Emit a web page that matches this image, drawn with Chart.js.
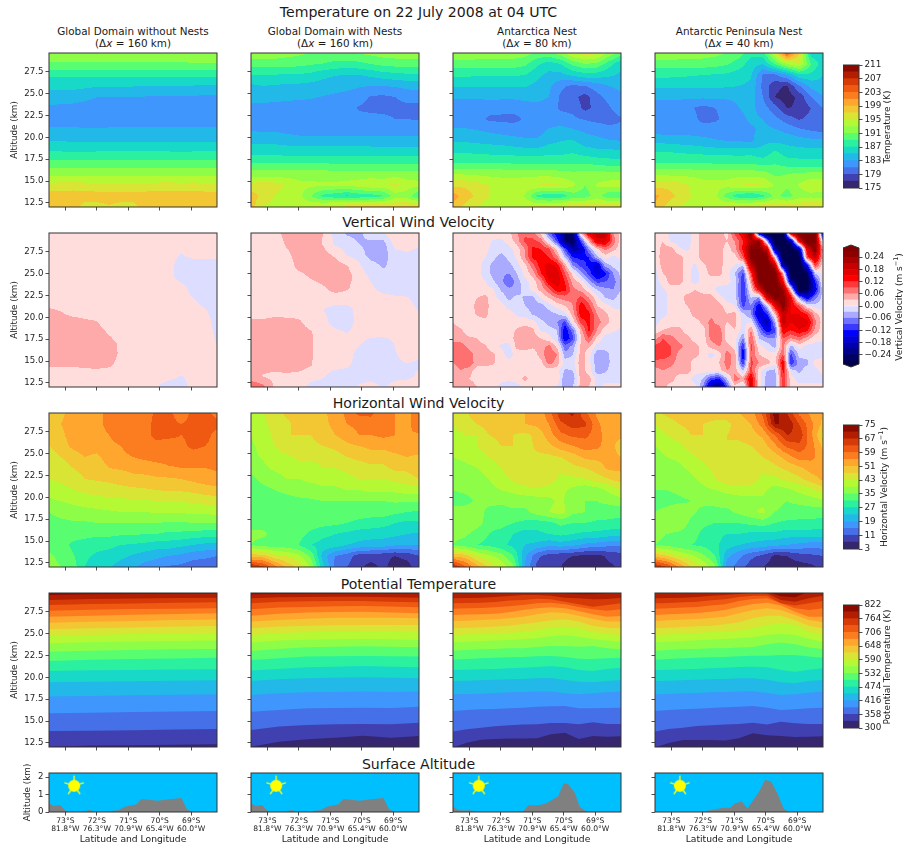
<!DOCTYPE html>
<html>
<head>
<meta charset="utf-8">
<title>Temperature on 22 July 2008 at 04 UTC</title>
<script src="https://cdn.jsdelivr.net/npm/chart.js@4"></script>
<style>
html, body { margin: 0; padding: 0; background: #fff; }
body { position: relative; width: 903px; height: 846px; overflow: hidden; font-family: "DejaVu Sans", sans-serif; color: #1a1a1a; }
canvas { position: absolute; }
.head { position: absolute; left: 0; width: 837px; text-align: center; font-size: 14.1px; line-height: 16px; white-space: nowrap; }
.ptitle { position: absolute; text-align: center; font-size: 10.4px; line-height: 12px; white-space: nowrap; }
.cbtitle { position: absolute; font-size: 9px; line-height: 11px; white-space: nowrap; transform: translate(-50%, -50%) rotate(-90deg); color: #222; }
sup { font-size: 6.5px; line-height: 0; }
</style>
</head>
<body>
<script>
// grid positions of the contour fields
const fieldLats = [-73.52,-73.14,-72.76,-72.38,-72.0,-71.61,-71.23,-70.85,-70.47,-70.09,-69.71,-69.32,-68.94,-68.56,-68.18];
const fieldAlts = [29.64,28.38,27.13,25.87,24.61,23.36,22.10,20.84,19.58,18.33,17.07,15.81,14.56,13.30,12.04];
const fineLats = [-73.52,-73.27,-73.01,-72.76,-72.5,-72.25,-71.99,-71.74,-71.49,-71.23,-70.98,-70.72,-70.47,-70.21,-69.96,-69.71,-69.45,-69.2,-68.94,-68.69,-68.43,-68.18];
const fineAlts = [29.64,28.71,27.79,26.86,25.94,25.01,24.08,23.16,22.23,21.31,20.38,19.45,18.53,17.6,16.68,15.75,14.82,13.9,12.97,12.04];

const latTicks = [-73,-72,-71,-70,-69];
const latLabels = ['73°S','72°S','71°S','70°S','69°S'];
const lonLabels = ['81.8°W','76.3°W','70.9°W','65.4°W','60.0°W'];
const altTicks = [12.5,15,17.5,20,22.5,25,27.5];
const surfaceTicks = [0,1,2];

const panelTitles = ['Global Domain without Nests','Global Domain with Nests','Antarctica Nest','Antarctic Peninsula Nest'];
const panelRes = ['160','160','80','40'];

// temperature (K)
const tempLevels = [175,177,179,181,183,185,187,189,191,193,195,197,199,201,203,205,207,209,211];
const tempTicks = [175,179,183,187,191,195,199,203,207,211];
const tempGlobal = [
[192.5,192.5,192.5,192.5,192.5,192.5,192.5,192.5,192.5,192.5,192.5,192.5,192.5,192.5,192.5],
[190.7,190.7,190.7,190.7,190.7,190.7,190.7,190.7,190.7,190.7,190.7,190.7,190.8,190.8,190.8],
[187.4,187.4,187.4,187.4,187.4,187.4,187.4,187.4,187.4,187.4,187.4,187.4,187.4,187.4,187.4],
[185.6,185.6,185.6,185.4,185.2,185.1,185.1,185.1,185,185,185,185,184.9,184.8,184.8],
[184,183.9,183.9,183.6,183,183,183,183,182.9,182.8,182.8,182.8,182.8,182.6,182.6],
[182.7,182.5,182.4,182,182,182,182,182,182,182,182,181.9,182,182,182],
[182,182,182,182,182,182,182,182,182,182,182,182,182,182,182],
[183.4,183.4,183.4,183.2,183.2,183.3,183.4,183.4,183.4,183.4,183.4,183.3,183.4,183.3,183.4],
[185,185,184.8,184.9,184.9,184.9,184.9,184.9,184.9,184.9,184.9,184.8,184.9,184.9,184.9],
[187.1,187.1,187,187,187.1,187.1,187.1,187.1,187.1,187.1,187.1,187,187.1,187.1,187.1],
[189.8,189.8,189.6,189.8,189.8,189.8,189.8,189.8,189.8,189.8,189.8,189.6,189.8,189.8,189.8],
[192.5,192.5,192.4,192.5,192.5,192.5,192.5,192.5,192.5,192.5,192.5,192.4,192.5,192.5,192.5],
[195.5,195.8,196,195.7,195.5,195.5,195.5,195.5,195.5,195.7,195.8,195.6,195.8,195.5,195.5],
[198,198,198,198,198,198,198,198,198,198,198,198,198,198,198],
[198,198,198,196.2,196.2,196.8,196.2,196.2,198,198,198,198,198,198,198]];
const tempNests = [
[192.4,192.4,192.2,191.8,191.4,191,190.8,190.6,190.8,191.2,191.6,192,192.2,192.4,192.4],
[189.9,189.9,189.9,189.8,189.6,189.2,188.9,188.4,188.2,188.4,189,189.6,189.8,189.9,189.9],
[186.9,186.9,186.9,186.8,186.8,186.4,185.6,185.1,185,185,185.4,186,186.4,186.6,186.6],
[184.6,185,184.8,184.6,184.5,184.3,184,183.8,183.6,183.2,183,183,183.2,183.6,183.8],
[183.5,183.6,183.5,183.4,183.3,183.2,182.9,182.6,182.3,181.8,180.8,180.6,181,181.6,181.8],
[182.5,182.5,182.4,182.3,182.2,182.1,182,181.9,181.7,180.8,180.5,180.5,180.5,180.5,180.4],
[182.2,182.2,182,181.8,181.8,181.8,181.8,181.8,181.8,181.6,181.6,181.4,181,181,180.8],
[182.8,182.7,182.7,182.3,182,182,182,182,182,182,182,182,181.9,182.2,182.2],
[184.6,184.6,184.5,184.3,184,184,184,184,184,184,184,183.8,183.8,183.6,183.6],
[186.2,186.2,186.2,186,186,186,186,186,186,186,186,185.9,186,186,186],
[189,189,189,188.9,188.9,188.9,188.9,188.8,188.8,188.8,188.8,188.8,188.8,188.8,188.8],
[192,192,192,192,192,192,192,192,192,192,192,191.8,192,192,192],
[195.6,196.3,195.8,194.8,193.7,193.5,193.4,193.4,193.6,194,194.6,194.4,195.6,194,193.6],
[198,196.4,195,194.2,193.6,191,188.4,187.6,186.6,187.6,188,188.8,192,192,189],
[198,195,194,193.5,194,195,196,197,197.5,197.5,197.5,197.5,197.5,197.5,197.5]];
const tempAntarctica = [
[192.6,192.6,192.4,192.4,192.4,192.2,192,190.5,190.5,192,195,196,195.5,192.5,190],
[190,190,190,190,190,190,189.4,187.4,186,187,189.5,191,190.4,187.8,185.5],
[187.4,187.4,187.2,187.2,187.2,187.2,187,185.6,184.4,184.4,185.4,186.2,186,185.4,184.6],
[185.2,185.2,185.2,185.2,185.2,185.2,185.2,184.4,183.4,181.4,180.6,181,182,183,183.6],
[183.2,183.2,183.2,183.4,183.4,183.4,183.6,183.6,183,180.6,179.6,178.2,180.4,181.6,182.4],
[182,182,182,181.9,181.6,181.6,182,182.4,182,180.6,180.4,178.4,179.6,180.8,182],
[182,182,182,180.6,180.6,180.4,181.2,182,182,182,181.4,180.8,180.4,180.2,180.8],
[183.3,183.2,183,182.6,182.2,182,182,182,183.2,183.6,183.2,182.6,182.2,181.6,181.6],
[184.8,184.8,184.6,184.4,184.2,183.8,183.4,183.3,184.4,185,185.2,184,183.6,183.2,183],
[186.8,186.8,186.6,186.4,186.4,186.2,186,186,186.4,186.4,186.8,186,185.6,185.6,185.4],
[189,189,189,189,189,188.8,188.6,188.6,188.6,188.6,188.8,188.8,188.4,188,187.8],
[193,192.8,192.6,192.4,192.4,192.4,192.4,192.4,192.4,192,191.6,191.8,192,191.8,191.6],
[196.4,196.6,196,195,194.2,194,194.4,195,195.4,195,193.6,191,193.2,193.8,194.2],
[200,198,196.6,195,194,193.8,192.8,188.5,187.4,187.6,190,190,192,189.4,189.2],
[198.5,196.5,195,194,194,194.5,195,195.5,196,196.5,197,197,197,197,197]];
const tempPeninsula = [
[192.6,192.6,192.4,192.2,192,191.6,191,190,187.6,188,195,204,197,186,185],
[190,190,190,190,190,189.8,189.2,188,186,185,189,193,195,189,185.8],
[187.5,187.5,187.4,187.2,187,186.8,186.6,186,185.2,180.8,180.6,183,186.5,186.5,185],
[185.4,185.4,185.4,185.4,185.4,185.4,185.2,185,184.6,180.4,177.6,176.8,180.8,183.6,184.4],
[183.4,183.4,183.4,183.4,183.4,183.4,183.4,183.6,184,181,177,175.8,177.6,181,183],
[182,182,181.8,181.2,180.4,181,181.6,183,183.6,182,179.8,176.9,177.4,179,181],
[182,182,182,181.8,180.4,180.6,181.8,182.4,183.4,183,181.6,180,178.8,179.6,180.4],
[182,182,182,182,182,182,182,182,182.6,183.6,183.2,182.4,181.4,180.8,180.4],
[184.5,184.4,184.2,184,183.6,183.2,183,183,182.6,184.6,184.6,184.4,184,183.6,183.4],
[187,187,186.8,186.6,186.4,186.2,186.2,186.2,186.2,185.6,187.4,186,185.8,185.8,185.8],
[189,189,189,189,189,188.8,188.8,188.6,188.8,188.2,188.8,188,187.8,187.6,187.6],
[192.6,192.5,192.4,192.4,192.2,192.2,192.2,192.2,192.2,192,190.6,191,191.4,191.6,191.6],
[196.2,196.4,195.8,194.8,193.8,193.6,193.8,195,195.4,195,192.8,191.5,193.2,194.6,194.4],
[199.6,198,196.6,195,194,193.6,190,187.6,186.8,188.4,191.6,190,192,192.4,192],
[198.5,196.5,195,194,194,194.5,195.5,196.5,197,197,197,197,197,197,197]];

// vertical velocity (m/s)
const wLevels = [-9,-0.27,-0.24,-0.21,-0.18,-0.15,-0.12,-0.09,-0.06,-0.03,0,0.03,0.06,0.09,0.12,0.15,0.18,0.21,0.24,0.27,9];
const wTicks = [-0.24,-0.18,-0.12,-0.06,0,0.06,0.12,0.18,0.24];
const wTickLabels = ['−0.24','−0.18','−0.12','−0.06','0.00','0.06','0.12','0.18','0.24'];
const wGlobal = [
[.015,.015,.015,.015,.015,.015,.015,.015,.015,.015,.015,.015,.015,.015,.015],
[.012,.012,.012,.012,.012,.012,.012,.012,.012,.012,.012,.012,.012,.012,.012],
[.012,.012,.012,.012,.012,.012,.012,.012,.012,.012,.012,-.002,.008,.01,.01],
[.01,.01,.01,.01,.01,.01,.01,.01,.01,.01,.01,-.015,-.015,-.015,-.015],
[.01,.01,.01,.01,.01,.01,.01,.01,.01,.01,.01,-.012,-.015,-.015,-.015],
[.012,.012,.012,.012,.012,.012,.012,.012,.012,.012,.012,.012,-.012,-.015,-.015],
[.012,.012,.012,.012,.012,.012,.012,.012,.012,.012,.012,.012,.002,-.012,-.015],
[.034,.028,.012,.012,.012,.012,.012,.012,.012,.012,.012,.012,.012,.002,-.012],
[.045,.045,.042,.034,.03,.012,.012,.012,.012,.012,.012,.012,.012,.01,-.01],
[.045,.045,.045,.045,.042,.026,.012,.012,.012,.012,.012,.012,.012,.012,-.006],
[.045,.045,.045,.045,.045,.04,.024,.012,.012,.012,.012,.012,.012,.012,-.001],
[.045,.045,.045,.045,.045,.045,.024,.012,.012,.012,.012,.012,.012,.012,.005],
[.034,.034,.034,.037,.04,.035,.02,.012,.012,.012,.012,.012,.012,.012,.008],
[.012,.012,.012,.012,.012,.012,.012,.012,.012,.012,.008,-.001,.008,.012,.012],
[.012,.012,.012,.012,.012,.012,.012,.012,.012,0,-.012,-.012,.01,.012,.012]];
const wNests = [
[.012,.012,.02,.04,.045,.045,.03,-.01,-.035,-.04,-.01,-.005,.03,.03,.012],
[.012,.012,.012,.035,.045,.045,.028,-.004,-.012,-.03,-.04,-.045,.012,.012,.005],
[.012,.012,.012,.022,.045,.045,.042,.025,-.002,-.012,-.045,-.045,-.012,-.004,-.012],
[.012,.012,.012,.012,.04,.045,.045,.045,.032,.005,-.015,-.035,-.015,-.015,-.015],
[.012,.012,.012,.012,.018,.034,.045,.045,.045,.012,-.004,-.015,-.015,-.015,-.015],
[.012,.012,.012,.012,.012,.012,.025,.045,.035,.01,.005,-.012,-.015,-.015,-.015],
[.012,.012,.012,.012,.012,.012,.012,.012,.012,.012,.012,.012,.006,.004,-.012],
[.012,.012,.012,.012,.012,.012,0,-.01,-.01,.01,.012,.012,.012,.012,-.002],
[.033,.034,.04,.038,.034,.012,.01,-.015,-.015,.01,.012,.012,.012,.012,.012],
[.045,.045,.045,.045,.045,.032,.012,.008,-.002,.012,.012,.012,.012,.012,.012],
[.045,.045,.045,.045,.045,.034,.012,.012,.012,.004,-.01,-.015,.002,.012,.012],
[.045,.045,.045,.045,.045,.033,.012,.012,.012,-.01,-.015,-.015,-.002,.01,.005],
[.045,.045,.045,.045,.045,.032,.012,.01,.006,-.012,-.015,-.015,-.005,-.002,-.005],
[.04,.028,.02,.025,.02,.012,.004,-.012,-.015,-.015,-.015,-.015,-.012,-.01,.006],
[.085,.07,.025,.025,.012,-.01,-.015,-.015,-.012,.004,.016,-.005,.015,.02,.02]];
const wAntarctica = [
[.012,.012,.012,.012,.012,.012,.012,.02,.06,.08,.07,.02,-.08,-.15,-.24,-.24,.03,.17,.2,.2,.06,.015],
[.012,.012,.012,.012,.012,-.002,-.005,.012,.045,.1,.1,.08,-.005,-.1,-.24,-.27,-.1,.04,.17,.17,.08,.012],
[.012,.012,.012,.012,.012,-.012,-.015,-.012,.012,.06,.13,.12,.1,.02,-.1,-.2,-.18,-.06,.02,.07,.04,.012],
[.012,.012,.012,.012,0,-.02,-.045,-.02,.005,.06,.13,.14,.12,.07,-.03,-.12,-.13,-.12,-.04,.012,-.01,.008],
[.012,.012,.012,.012,-.01,-.04,-.05,-.04,-.012,.02,.08,.14,.165,.14,.05,-.06,-.1,-.13,-.17,-.05,-.02,-.012],
[.012,.012,.012,.012,-.012,-.04,-.055,-.06,-.03,.01,.045,.12,.17,.17,.09,.02,-.05,-.1,-.17,-.13,-.06,-.02],
[.012,.012,.012,.012,.002,-.025,-.05,-.09,-.045,-.01,.012,.06,.15,.17,.12,.045,.02,-.04,-.1,-.09,-.075,-.03],
[.012,.012,.012,.012,.012,.004,-.035,-.05,-.05,-.012,.01,.04,.08,.14,.13,.07,.05,.012,-.03,-.05,-.06,-.03],
[.012,.012,.012,.03,.04,.012,-.01,-.04,-.02,-.035,-.04,.005,.03,.06,.075,.07,.1,.06,.01,-.03,-.04,-.012],
[.012,.012,.012,.04,.045,.012,.012,-.01,-.015,-.03,-.045,-.045,-.015,.012,.03,.06,.14,.1,.03,.012,-.005,-.01],
[.012,.012,.012,.035,.04,.012,.012,.012,-.005,-.01,-.035,-.05,-.045,-.03,-.01,.045,.14,.13,.06,.04,.012,.01],
[.03,.012,.012,.012,.022,.012,.012,.012,.012,.02,.012,-.02,-.045,-.06,-.1,.01,.1,.13,.07,.05,.012,.012],
[.045,.035,.012,.012,.012,.012,.012,.012,.035,.045,.035,-.005,-.012,-.03,-.15,-.07,.045,.13,.06,.012,.004,-.004],
[.045,.045,.035,.03,.012,.012,.012,.012,.045,.05,.045,.03,.012,-.02,-.15,-.1,.03,.09,.02,-.01,-.012,-.015],
[.075,.075,.05,.045,.035,.012,-.005,-.01,.04,.045,.035,.045,.07,.02,-.08,-.05,.04,.035,-.012,-.012,-.012,-.012],
[.075,.08,.075,.045,.045,.035,.012,-.015,.012,.012,.012,.045,.09,.06,-.05,-.03,.045,.012,-.05,-.05,-.012,-.015],
[.06,.075,.08,.045,.045,.035,.012,.012,.012,.012,-.002,.02,.075,.045,-.012,-.012,.05,.012,-.05,-.05,-.015,-.015],
[.045,.06,.045,.012,.012,.012,.012,.012,.012,.012,.012,.012,.012,.012,-.035,-.03,.05,.012,-.045,-.035,-.015,-.015],
[.035,.045,.03,.012,.012,.012,.012,.012,.012,.04,.012,.012,.02,.03,-.06,-.05,.045,.045,-.012,-.012,-.012,-.012],
[.035,.045,.06,.03,.012,.012,-.012,-.03,-.012,.005,.012,.012,.012,-.005,-.05,-.03,.045,.03,-.01,.012,.012,.012]];
const wPeninsula = [
[.012,.012,-.01,-.015,-.01,.012,.045,.06,.045,.02,.1,.15,.27,-.2,-.3,-.3,-.3,.2,.3,.3,.3,-.2],
[.012,.03,-.005,-.015,-.012,.012,.045,.06,.045,.03,.06,.12,.21,.25,-.05,-.3,-.3,-.2,.15,.3,.27,-.03],
[.012,.04,.045,.005,-.005,.012,.05,.06,.05,.012,.05,.13,.27,.27,.2,-.2,-.3,-.3,-.2,.15,.27,.05],
[.012,.045,.045,.045,.012,.012,.05,.055,.05,.012,.012,.09,.27,.3,.27,.03,-.3,-.3,-.3,.1,.2,.04],
[-.005,.045,.045,.045,.012,-.005,.02,.05,.045,.012,0,-.03,.2,.3,.3,.2,-.2,-.3,-.3,-.15,.1,.012],
[-.012,.03,.045,.045,.012,-.012,.012,.04,.04,.012,-.03,-.1,.1,.3,.3,.3,.05,-.3,-.3,-.27,-.03,.012],
[-.012,.01,.045,.045,.012,-.012,.012,.012,.012,.012,-.012,-.12,.05,.27,.3,.3,.15,-.2,-.3,-.3,-.12,.012],
[-.012,-.005,.012,.012,.012,.03,.012,.012,-.012,-.015,-.02,-.12,.012,.15,.3,.3,.25,.02,-.3,-.27,-.15,-.01],
[-.015,-.015,.012,.012,.045,.05,.05,.045,.012,-.012,-.012,-.12,-.03,-.06,.18,.27,.27,.15,-.05,-.15,-.07,-.015],
[-.015,-.015,.012,.012,.03,.05,.05,.05,.045,.012,0,-.1,-.06,-.15,-.03,.15,.27,.15,.1,.01,-.015,-.015],
[-.015,-.012,.012,.012,.012,.045,.05,.05,.05,.03,.04,-.02,-.06,-.18,-.12,.03,.2,.15,.15,.12,.04,.012],
[-.012,.012,.012,.012,.012,.012,.04,.07,.045,.03,.04,-.012,0,-.12,-.2,-.05,.2,.15,.17,.17,.07,.012],
[.012,.03,.04,.045,.012,.012,.012,.08,.08,.012,.03,-.015,.06,-.06,-.15,-.1,.15,.12,.15,.13,.05,.012],
[.045,.09,.07,.05,.045,.012,.012,.07,.09,.012,.012,-.06,.09,-.03,-.05,-.06,.09,.06,.08,.045,.012,.012],
[.1,.11,.09,.07,.05,.045,.012,.04,.06,.045,.012,-.12,.1,.012,-.012,-.04,.07,-.04,.012,-.012,-.012,-.012],
[.11,.11,.09,.05,.045,.045,.012,-.012,.012,.075,.045,-.15,.09,.03,.012,.012,.09,-.1,-.02,-.015,-.015,-.015],
[.08,.075,.07,.045,.045,.012,.012,.012,.03,.075,.045,-.12,.1,.06,.045,.012,.15,-.12,-.045,-.04,.012,.02],
[.045,.06,.05,.045,.045,.012,.012,.012,.012,.06,.05,-.03,.1,.012,-.03,-.04,.13,-.012,-.04,-.012,-.012,.012],
[.05,.045,.045,.012,.012,-.012,-.03,-.1,-.12,-.03,.08,.05,.16,.012,-.045,-.05,.12,.012,-.012,-.012,-.012,-.012],
[.045,.045,.012,.012,.012,.012,-.06,-.2,-.25,-.1,.02,-.03,.17,.012,-.05,-.05,.12,.012,.012,.012,.012,.012]];

// horizontal velocity (m/s)
const uLevels = [3,7,11,15,19,23,27,31,35,39,43,47,51,55,59,63,67,71,75];
const uTicks = [3,11,19,27,35,43,51,59,67,75];
const uTickLabels = ['3','11','19','27','35','43','51','59','67','75'];
const uGlobal = [
[48,50,53,53,54,56,57,57,57,60,60,57,60,60,58],
[49,51,53,54,54,56,57,57,58,60,60,59,60,60,60],
[48,50,53,54,54,55,57,57,58,60,60,59,60,60,58],
[47,49,52,53,53,54,55,57,58,58,57,58,60,59,58],
[45,47,49,51,50,53,54,55,56,57,57,57,57,57,57],
[43.5,45,47,48.5,49,51,51.5,52,52.5,53,54.5,55,55,55,55.5],
[43,44,45,47,47.5,48,49,50,50,50.5,50.5,51,52,53,54],
[40,41.5,43,44,44.5,45,45.5,46,46.5,47,47.5,47.5,48,49,49.5],
[38.5,39,40,41,41.5,42,42,42.5,42.5,43,43,43,44,44.5,45],
[35,36.5,37,37.5,38,38.5,39,39,39,39.5,39.5,39.5,40,40,40.5],
[33.5,34,34.5,34.5,35,35,35,35,35,35,34.5,34.5,35,35,35],
[33,33,33,32.5,32,32,31.5,31.5,31,31,30,30,29.5,29,29],
[33,33,30,29,28,28,27,26.5,26,25,25,24,23,22,22],
[36,33.5,31.5,27.5,26.5,25.5,24,22.5,21,20,19,18,16.5,16,15],
[37,35,33,27,25.5,23.5,21,19.5,17.5,16,14.5,14,12.5,12,12]];
const uNests = [
[41,43,45,48,48.5,49,50,53,56,60,60,56,55,54,57],
[41.5,42,45,46,49,49,50,52,55,56,57,56,55,54,57],
[39,41,44,47,47,47,49,51,53,55,55,56,55,55,54.5],
[38.5,40,43,46,47,46,47,48,50,51,52,52,53,54,54],
[38,39.5,41.5,42,44,43.5,44,45,47,48,49,49,50,51,50],
[36,38,40,41,41,42,43,43,44,45,46,46,48,48,50],
[34,36,37,39,39,40,41,41,42,43,43,43,44,45,47],
[33,34,35,36,37,37,38,38,39,39,40,40,40,41,41],
[33,33,33,33.5,34,34.5,35,35,35,35,35,35,35.5,35.5,35.5],
[33,33,33,33,33,33,33,33,33,33,33,33,32,31,30.5],
[33,33,33,33,33,33,32.5,32,31,30,29,28.5,27,26,26.5],
[36,36,33,33,32.5,30,28,27,26,25,25,24.5,24,23,22.5],
[35,33,33,32.5,31,27,25.5,25,23,22,21,21,19.5,19,19],
[49,49,44,43,40,34,21,15,13,9,9,8,7,8,11],
[68,64,57,50,46,38,24,14,11,8,5.5,8,5,5.5,9]];
const uAntarctica = [
[47,46,50,50,51,51,51,52,57,66,68,60,54,52,52],
[43,45,47,49,50,49,51,52,55,62,65,64,56,52,51],
[42,43,43,47,48,47,46,48,53,58,60,60,57,52,52],
[41,41,43,45,47,47,45,48,50,53,55,57,56,53,49],
[39,40,41,43,45,47,46,46,46,47,49,52,52,52,51],
[37,38,39,41,43,46,47,46,45,44,46,47,49,52,52],
[36,37,37,39,41,44,47,47,45,42,42,43,45,47,49],
[35,36,37,38,39,40,41,42,41,40,38,36,37,40,43],
[33,33,36,37,36,37,37,37,38,40,36,35,35,36,37],
[37,38,38,33,33,34,34,37,39,41,36,35,34,33,33],
[38,39,37,33,33,31,30,29,30,32,31,31,30,30,29],
[36,36,33,31,29,27,25,26,27,28,27,26,26,25,25],
[35,33,31,30,28,26,23,22,20,21,20,18,17,16,16],
[50,49,43,40,37,31,20,12,9,8,7,6,5.5,8,9],
[68,60,53,46,42,36,18,10,8,7,5,5,5,6,8]];
const uPeninsula = [
[46,48,49,48,49,49,49,51,53,60,73,67,58,54,51],
[43,45,47,48,47,46,46,49,51,57,71,71,63,56,50],
[41,43,45,47,47,45,47,48,49,52,59,67,66,56,46],
[39,41,42,45,46,47,47,46,47,49,54,60,62,57,50],
[37,39,40,42,44,47,47,46,45,47,49,53,57,56,53],
[36,37,38,40,42,44,47,46,45,44,46,48,50,53,53],
[36,36,36,38,40,43,46,47,45,42,42,44,46,49,52],
[35,35,36,37,38,39,40,41,41,40,37,38,40,42,45],
[33,33,34,35,36,36,37,37,37,38,36,35,36,37,38],
[35,37,39,36,34,34,34,36,38,40,35,34,33,33,33],
[37,38,38,34,32,31,31,31,32,33,31,30,30,30,29],
[36,35,34,33,30,28,27,27,26,26,26,25,25,25,25],
[35,34,32,31,30,28,25,23,22,21,20,19,18,17,17],
[50,47,43,40,36,31,20,16,12,10,6,7,9,10,11],
[68,63,55,47,43,36,17,13,9,7,5,5,5,6,8]];

// potential temperature: altitude (km) of each contour level, one row per level
const thetaLevels = [300,329,358,387,416,445,474,503,532,561,590,619,648,677,706,735,764,793,822];
const thetaTicks = [300,358,416,474,532,590,648,706,764,822];
const thetaLatsGlobal = [-73.52,-72.19,-70.85,-69.52,-68.18];
const thetaLatsNests = [-73.52,-72.63,-71.74,-70.85,-69.96,-69.07,-68.18];
const thetaLatsFine = [-73.52,-73.08,-72.63,-72.19,-71.74,-71.3,-70.85,-70.41,-69.96,-69.52,-69.07,-68.63,-68.18];
const thetaGlobal = [
[12.08,12.2,12.25,12.3,12.35],
[13.87,13.9,13.95,14.05,14.1],
[15.89,15.95,16.05,16.1,16.16],
[17.8,17.88,17.95,18.0,18.06],
[19.43,19.5,19.55,19.6,19.66],
[20.73,20.8,20.85,20.9,20.92],
[21.87,22.0,22.1,22.15,22.25],
[22.94,23.05,23.13,23.2,23.24],
[23.89,24.0,24.1,24.15,24.2],
[24.77,24.85,24.95,25.05,25.11],
[25.49,25.6,25.7,25.8,25.87],
[26.25,26.35,26.45,26.55,26.6],
[26.94,27.05,27.15,27.25,27.32],
[27.62,27.72,27.8,27.85,27.89],
[28.27,28.38,28.45,28.52,28.58],
[28.84,28.95,29.02,29.06,29.11],
[29.41,29.5,29.53,29.56,29.57]];
const thetaNests = [
[12.08,12.65,12.92,13.11,13.34,13.11,13.3],
[13.99,14.37,14.56,14.63,14.67,14.63,14.82],
[16.08,16.27,16.46,16.5,16.54,16.5,16.65],
[17.99,18.18,18.29,18.33,18.37,18.33,18.37],
[19.59,19.78,19.89,19.95,20.0,19.95,19.89],
[20.77,20.96,21.15,21.22,21.3,21.22,21.15],
[21.99,22.18,22.37,22.4,22.44,22.4,22.37],
[23.01,23.24,23.43,23.5,23.55,23.5,23.43],
[23.97,24.2,24.3,24.35,24.39,24.35,24.27],
[24.84,25.03,25.15,25.2,25.22,25.2,25.15],
[25.6,25.8,25.9,25.95,25.99,25.99,25.99],
[26.37,26.56,26.7,26.8,26.82,26.8,26.75],
[27.05,27.28,27.4,27.48,27.51,27.4,27.32],
[27.78,27.97,28.05,28.12,28.16,28.1,28.0],
[28.46,28.65,28.7,28.72,28.73,28.65,28.58],
[29.03,29.15,29.18,29.2,29.22,29.15,29.11],
[29.49,29.53,29.55,29.56,29.57,29.57,29.57]];
const thetaAntarctica = [
[12.0,12.54,12.88,12.96,13.0,13.0,13.03,13.49,13.68,12.96,13.3,13.22,13.26],
[13.8,14.06,14.25,14.4,14.52,14.6,14.63,14.79,14.79,14.63,14.86,14.67,14.67],
[16.16,16.27,16.35,16.39,16.46,16.54,16.65,16.69,16.73,16.46,16.46,16.5,16.54],
[18.06,18.1,18.14,18.21,18.29,18.33,18.37,18.37,18.18,18.06,18.18,18.29,18.37],
[19.59,19.62,19.66,19.74,19.78,19.81,19.89,19.93,19.7,19.51,19.43,19.59,19.7],
[20.84,20.88,20.92,20.96,21.03,21.11,21.19,21.26,21.15,20.84,20.73,20.96,21.11],
[22.02,22.1,22.18,22.25,22.29,22.33,22.4,22.44,22.33,22.14,22.1,22.18,22.25],
[23.05,23.13,23.2,23.24,23.32,23.32,23.47,23.59,23.59,23.51,23.59,23.32,23.17],
[24.0,24.08,24.16,24.2,24.27,24.35,24.46,24.69,24.84,24.65,24.39,24.2,24.08],
[24.84,24.92,24.96,25.03,25.11,25.22,25.41,25.72,25.8,25.6,25.15,24.96,24.84],
[25.6,25.68,25.72,25.8,25.91,26.1,26.29,26.52,26.63,26.37,25.91,25.68,25.6],
[26.44,26.48,26.56,26.63,26.75,26.94,27.2,27.43,27.36,27.05,26.67,26.37,26.37],
[27.13,27.17,27.2,27.28,27.43,27.7,27.89,28.0,27.89,27.59,27.2,26.94,27.01],
[27.85,27.89,27.93,28.0,28.12,28.27,28.46,28.54,28.35,28.04,27.78,27.62,27.78],
[28.46,28.5,28.54,28.61,28.77,28.84,28.99,28.92,28.65,28.35,28.08,28.27,28.46],
[29.03,29.07,29.11,29.19,29.3,29.41,29.41,29.34,29.11,29.03,28.92,28.96,29.11],
[29.8,29.8,29.8,29.8,29.8,29.8,29.8,29.8,29.64,29.49,29.49,29.64,29.8]];
const thetaPeninsula = [
[12.0,12.5,12.84,12.84,12.84,12.77,13.03,13.6,13.38,13.3,13.19,13.22,13.26],
[13.8,14.1,14.25,14.44,14.52,14.6,14.67,14.82,14.6,14.94,14.75,14.67,14.67],
[16.16,16.27,16.35,16.42,16.5,16.58,16.65,16.73,16.54,16.27,16.35,16.46,16.54],
[18.06,18.1,18.18,18.21,18.29,18.33,18.37,18.4,18.21,17.99,18.06,18.25,18.37],
[19.59,19.62,19.66,19.74,19.78,19.81,19.89,19.89,19.74,19.43,19.32,19.59,19.7],
[20.84,20.88,20.92,20.96,21.03,21.11,21.19,21.22,21.15,20.84,20.65,20.88,21.03],
[22.02,22.1,22.18,22.25,22.29,22.33,22.4,22.48,22.48,22.56,22.56,22.37,22.25],
[23.05,23.13,23.2,23.24,23.32,23.32,23.4,23.47,23.78,23.97,23.78,23.4,23.24],
[24.0,24.08,24.16,24.23,24.31,24.39,24.46,24.58,24.84,24.99,24.84,24.39,24.08],
[24.84,24.92,24.99,25.07,25.15,25.22,25.34,25.6,25.99,26.18,25.99,25.22,24.84],
[25.6,25.68,25.76,25.83,25.91,26.06,26.29,26.75,27.05,27.05,26.56,25.91,25.6],
[26.44,26.52,26.6,26.67,26.79,26.94,27.32,27.7,27.89,27.7,27.13,26.56,26.29],
[27.13,27.2,27.28,27.36,27.51,27.7,28.08,28.39,28.54,28.2,27.51,26.94,26.94],
[27.85,27.89,27.97,28.04,28.2,28.35,28.73,28.96,29.03,28.46,27.89,27.7,27.89],
[28.46,28.5,28.58,28.65,28.8,28.92,29.19,29.34,29.34,28.46,28.2,28.46,28.73],
[29.03,29.07,29.11,29.19,29.34,29.41,29.53,29.72,29.6,28.84,28.65,29.03,29.34],
[29.8,29.8,29.8,29.8,29.8,29.8,29.8,29.8,29.8,29.26,29.15,29.8,29.8]];

// surface altitude (km)
const surfLatGlobal = [-73.52,-73.38,-73.17,-73.01,-72.91,-72.43,-72.24,-72.06,-71.9,-71.32,-71.11,-70.74,-70.58,-70.05,-69.79,-69.31,-69.13,-68.94,-68.18];
const surfGlobal = [0.5,0.35,0.4,0.1,0,0,0.12,0.02,0,0.1,0.3,0.45,0.75,0.65,0.72,0.8,0.15,0,0];
const surfLatAntarctica = [-73.52,-73.34,-73.08,-72.97,-72.76,-72.65,-72.02,-71.6,-71.28,-71.13,-70.76,-70.55,-70.18,-70.0,-69.86,-69.65,-69.49,-69.28,-69.02,-68.19];
const surfAntarctica = [0.3,0.1,0.08,0.1,0.02,0,0,0.05,0.05,0.38,0.4,0.5,0.9,1.65,1.6,1.1,0.3,0.05,0,0];
const surfLatPeninsula = [-73.52,-72.09,-71.77,-71.34,-71.13,-70.97,-70.76,-70.58,-70.39,-70.2,-70.02,-69.83,-69.64,-69.43,-69.27,-68.18];
const surfPeninsula = [0,0,0.1,0.25,0.25,0.5,0.6,0.2,0.7,1.2,1.85,1.75,1.1,0.2,0,0];
const sunLat = [-72.72,-72.72,-72.7,-72.73];
const sunAlt = [1.5,1.5,1.5,1.5];

const turbo = ['#36266f','#4040b0','#4670e8','#3f96fd','#22b8e8','#18d8c8','#2af0a0','#58fd70','#8efd48','#b4f934','#d8e535','#f3c634','#fea62e','#fc7d20','#ef5911','#d63a06','#b21e02','#8a0a00'];
const seismic = ['#00004d','#000061','#000088','#0000b0','#0000d7','#0000ff','#3939ff','#7171ff','#aaaaff','#ddddff','#ffdddd','#ffaaaa','#ff7171','#ff3939','#ff0000','#e30000','#c70000','#aa0000','#8e0000','#800000'];

const colLefts = [49,251,453,655];
const rowTops = [53,233,413,593,773];
const panelW = 168;
const panelH = 154;
const surfaceH = 39;

function addCanvas(left, top, w, h) {
    var c = document.createElement('canvas');
    c.width = w;
    c.height = h;
    c.style.left = left + 'px';
    c.style.top = top + 'px';
    c.style.width = w + 'px';
    c.style.height = h + 'px';
    document.body.appendChild(c);
    return c;
}

function addText(cls, html, css) {
    var d = document.createElement('div');
    d.className = cls;
    d.innerHTML = html;
    Object.assign(d.style, css);
    document.body.appendChild(d);
}

function bracket(arr, v) {
    // index of the cell of arr holding v, arr may run either way
    var i = 0;
    var up = arr[1] > arr[0];
    while (i < arr.length - 2 && (up ? v > arr[i + 1] : v < arr[i + 1])) i++;
    return i;
}

function noLabelPadding(s) {
    // tick labels must not push the plot area in, the axes sizes are fixed
    s._calculatePadding = function () {};
}

// border and background of each axes
const framePlugin = {
    id: 'frame',
    beforeDraw(chart, args, opts) {
        if (!opts.background) return;
        var a = chart.chartArea;
        chart.ctx.fillStyle = opts.background;
        chart.ctx.fillRect(a.left, a.top, a.right - a.left, a.bottom - a.top);
    },
    afterDraw(chart, args, opts) {
        if (opts.noBox) return;
        var a = chart.chartArea;
        var ctx = chart.ctx;
        ctx.strokeStyle = '#333';
        ctx.lineWidth = 1;
        ctx.strokeRect(a.left, a.top, a.right - a.left, a.bottom - a.top);
    }
};

// filled contours of a gridded dataset, colour bands looked up per pixel through the scales
const contourPlugin = {
    id: 'contour',
    beforeDatasetsDraw(chart) {
        var ds = chart.data.datasets[0];
        if (!ds.grid) return;
        var ctx = chart.ctx, a = chart.chartArea;
        var sx = chart.scales.x, sy = chart.scales.y;
        var L = Math.round(a.left), R = Math.round(a.right), T = Math.round(a.top), B = Math.round(a.bottom);
        for (var py = T; py < B; py++) {
            var alt = sy.getValueForPixel(py + 0.5);
            var r = bracket(ds.gridAlts, alt);
            var fy = (alt - ds.gridAlts[r]) / (ds.gridAlts[r + 1] - ds.gridAlts[r]);
            fy = Math.max(0, Math.min(1, fy));
            var runStart = L, runBand = -1;
            for (var px = L; px <= R; px++) {
                var band = -2;
                if (px < R) {
                    var lat = sx.getValueForPixel(px + 0.5);
                    var c = bracket(ds.gridLats, lat);
                    var fx = (lat - ds.gridLats[c]) / (ds.gridLats[c + 1] - ds.gridLats[c]);
                    fx = Math.max(0, Math.min(1, fx));
                    var top = ds.grid[r][c] * (1 - fx) + ds.grid[r][c + 1] * fx;
                    var bot = ds.grid[r + 1][c] * (1 - fx) + ds.grid[r + 1][c + 1] * fx;
                    var v = top * (1 - fy) + bot * fy;
                    band = bracket(ds.levels, v);
                }
                if (band !== runBand) {
                    if (runBand >= 0) {
                        ctx.fillStyle = ds.colors[runBand];
                        ctx.fillRect(runStart, py, px - runStart, 1);
                    }
                    runStart = px;
                    runBand = band;
                }
            }
        }
    }
};

// pointed ends of the extended colorbar
const arrowPlugin = {
    id: 'arrows',
    afterDatasetsDraw(chart, args, opts) {
        if (!opts.shoulder) return;
        var a = chart.chartArea, sy = chart.scales.y, ctx = chart.ctx;
        var yTop = sy.getPixelForValue(opts.shoulder), yBot = sy.getPixelForValue(-opts.shoulder);
        var mid = (a.left + a.right) / 2;
        ctx.fillStyle = opts.hiColor;
        ctx.beginPath();
        ctx.moveTo(a.left, yTop); ctx.lineTo(mid, a.top); ctx.lineTo(a.right, yTop);
        ctx.fill();
        ctx.fillStyle = opts.loColor;
        ctx.beginPath();
        ctx.moveTo(a.left, yBot); ctx.lineTo(mid, a.bottom); ctx.lineTo(a.right, yBot);
        ctx.fill();
        ctx.strokeStyle = '#333';
        ctx.lineWidth = 1;
        ctx.beginPath();
        ctx.moveTo(a.left, yTop); ctx.lineTo(mid, a.top); ctx.lineTo(a.right, yTop);
        ctx.lineTo(a.right, yBot); ctx.lineTo(mid, a.bottom); ctx.lineTo(a.left, yBot);
        ctx.closePath();
        ctx.stroke();
    }
};

function xAxis(col, labelled, marginB) {
    return {
        type: 'linear',
        min: -73.52,
        max: -68.18,
        afterBuildTicks(s) { s.ticks = latTicks.map(function (v) { return { value: v }; }); },
        beforeFit: noLabelPadding,
        afterFit(s) { s.height = marginB; },
        grid: { drawOnChartArea: false, drawTicks: true, tickLength: 3.5, tickWidth: 0.8, tickColor: '#222' },
        border: { display: false },
        ticks: {
            display: labelled,
            autoSkip: false,
            maxRotation: 0,
            padding: 1,
            color: '#222',
            font: { family: 'DejaVu Sans', size: 7.6, lineHeight: 1.1 },
            callback: function (v, i) { return [latLabels[i], lonLabels[i]]; }
        },
        title: {
            display: labelled,
            text: 'Latitude and Longitude',
            color: '#222',
            font: { family: 'DejaVu Sans', size: 9.2 },
            padding: { top: 0, bottom: 7 }
        }
    };
}

function yAxis(col, min, max, ticks, marginL, fmt, titlePad) {
    return {
        type: 'linear',
        min: min,
        max: max,
        afterBuildTicks(s) { s.ticks = ticks.map(function (v) { return { value: v }; }); },
        beforeFit: noLabelPadding,
        afterFit(s) { s.width = marginL; },
        grid: { drawOnChartArea: false, drawTicks: true, tickLength: 3.5, tickWidth: 0.8, tickColor: '#222' },
        border: { display: false },
        ticks: {
            display: col === 0,
            autoSkip: false,
            padding: 2,
            color: '#222',
            font: { family: 'DejaVu Sans', size: 8.6 },
            callback: fmt
        },
        title: {
            display: col === 0,
            text: 'Altitude (km)',
            color: '#222',
            font: { family: 'DejaVu Sans', size: 8.8 },
            padding: { top: titlePad, bottom: 0 }
        }
    };
}

function panelGeometry(col, row) {
    var marginL = col === 0 ? 49 : 10;
    var marginT = row === 4 ? 14 : 2;
    var marginB = row === 4 ? 40 : 6;
    var h = row === 4 ? surfaceH : panelH;
    return {
        canvas: addCanvas(colLefts[col] - marginL, rowTops[row] - marginT, marginL + panelW + 2, marginT + h + marginB),
        marginL: marginL, marginT: marginT, marginB: marginB
    };
}

function contourPanel(col, row, grid, lats, alts, levels, colors) {
    var g = panelGeometry(col, row);
    var points = [];
    grid.forEach(function (line, j) {
        line.forEach(function (v, i) { points.push({ x: lats[i], y: alts[j], v: v }); });
    });
    new Chart(g.canvas, {
        type: 'scatter',
        data: { datasets: [{ data: points, grid: grid, gridLats: lats, gridAlts: alts, levels: levels, colors: colors, pointRadius: 0 }] },
        plugins: [framePlugin, contourPlugin],
        options: {
            responsive: false,
            animation: false,
            events: [],
            layout: { padding: { left: 0, right: 2, top: g.marginT, bottom: 0 } },
            plugins: { legend: { display: false }, tooltip: { enabled: false } },
            scales: {
                x: xAxis(col, false, g.marginB),
                y: yAxis(col, 12.04, 29.64, altTicks, g.marginL, function (v) { return v.toFixed(1); }, 9)
            }
        }
    });
}

function thetaPanel(col, row, contours, lats) {
    var g = panelGeometry(col, row);
    // lowest level goes last so that Chart.js paints it first
    var sets = contours.map(function (alts, k) {
        return {
            label: String(thetaLevels[k + 1]),
            data: alts.map(function (y, i) { return { x: lats[i], y: y }; }),
            showLine: true,
            fill: 'end',
            backgroundColor: turbo[k + 1],
            borderWidth: 0,
            pointRadius: 0
        };
    }).reverse();
    new Chart(g.canvas, {
        type: 'scatter',
        data: { datasets: sets },
        plugins: [framePlugin],
        options: {
            responsive: false,
            animation: false,
            events: [],
            layout: { padding: { left: 0, right: 2, top: g.marginT, bottom: 0 } },
            plugins: { legend: { display: false }, tooltip: { enabled: false }, frame: { background: turbo[0] } },
            scales: {
                x: xAxis(col, false, g.marginB),
                y: yAxis(col, 12.04, 29.64, altTicks, g.marginL, function (v) { return v.toFixed(1); }, 9)
            }
        }
    });
}

function sunMarker() {
    var c = document.createElement('canvas');
    c.width = 24;
    c.height = 24;
    var ctx = c.getContext('2d');
    ctx.translate(12, 12);
    ctx.fillStyle = '#ffff00';
    ctx.strokeStyle = '#ffff00';
    ctx.lineWidth = 1.3;
    for (var i = 0; i < 5; i++) {
        var t = -Math.PI / 2 + i * 2 * Math.PI / 5;
        ctx.beginPath();
        ctx.moveTo(0, 0);
        ctx.lineTo(10.2 * Math.cos(t), 10.2 * Math.sin(t));
        ctx.stroke();
    }
    ctx.beginPath();
    ctx.arc(0, 0, 6, 0, Math.PI * 2);
    ctx.fill();
    return c;
}

function surfacePanel(col, lats, heights) {
    var g = panelGeometry(col, 4);
    new Chart(g.canvas, {
        type: 'scatter',
        data: {
            datasets: [
                { data: [{ x: sunLat[col], y: sunAlt[col] }], pointStyle: sunMarker(), pointRadius: 10 },
                {
                    data: heights.map(function (y, i) { return { x: lats[i], y: y }; }),
                    showLine: true,
                    fill: 'origin',
                    backgroundColor: '#808080',
                    borderWidth: 0,
                    pointRadius: 0
                }
            ]
        },
        plugins: [framePlugin],
        options: {
            responsive: false,
            animation: false,
            events: [],
            // the big sun point would otherwise shrink the plot area
            layout: { autoPadding: false, padding: { left: 0, right: 2, top: g.marginT, bottom: 0 } },
            plugins: { legend: { display: false }, tooltip: { enabled: false }, frame: { background: '#00bfff' } },
            scales: {
                x: xAxis(col, true, g.marginB),
                y: yAxis(col, 0, 2.23, surfaceTicks, g.marginL, function (v) { return String(v); }, 22)
            }
        }
    });
}

function colorbar(top, h, levels, colors, ticks, labels, lo, hi, arrows) {
    var c = addCanvas(843, top - 7, 62, h + 14);
    var sets = colors.map(function (col, k) {
        var a = Math.max(levels[k], lo), b = Math.min(levels[k + 1], hi);
        if (arrows) {
            a = Math.max(a, -arrows.shoulder);
            b = Math.min(b, arrows.shoulder);
        }
        return { data: [[a, b]], backgroundColor: col, borderWidth: 0, barPercentage: 1, categoryPercentage: 1, grouped: false };
    });
    new Chart(c, {
        type: 'bar',
        data: { labels: [''], datasets: sets },
        plugins: [framePlugin, arrowPlugin],
        options: {
            responsive: false,
            animation: false,
            events: [],
            layout: { padding: { top: 7, bottom: 7 } },
            plugins: {
                legend: { display: false },
                tooltip: { enabled: false },
                frame: { noBox: !!arrows },
                arrows: arrows || {}
            },
            scales: {
                x: { display: false },
                y: {
                    position: 'right',
                    min: lo,
                    max: hi,
                    afterBuildTicks(s) { s.ticks = ticks.map(function (v) { return { value: v }; }); },
                    beforeFit: noLabelPadding,
                    afterFit(s) { s.width = 46; },
                    grid: { drawOnChartArea: false, drawTicks: true, tickLength: 3.5, tickWidth: 0.8, tickColor: '#222' },
                    border: { display: false },
                    ticks: {
                        autoSkip: false,
                        padding: 2,
                        color: '#222',
                        font: { family: 'DejaVu Sans', size: 8.8 },
                        callback: function (v, i) { return labels[i]; }
                    }
                }
            }
        }
    });
}

// headings
addText('head', 'Temperature on 22 July 2008 at 04 UTC', { top: '4px' });
addText('head', 'Vertical Wind Velocity', { top: '214px' });
addText('head', 'Horizontal Wind Velocity', { top: '395px' });
addText('head', 'Potential Temperature', { top: '576px' });
addText('head', 'Surface Altitude', { top: '756px' });
panelTitles.forEach(function (t, i) {
    addText('ptitle', t + '<br>(Δ<i>x</i> = ' + panelRes[i] + ' km)', { left: colLefts[i] + 'px', width: panelW + 'px', top: '25px' });
});

// contour rows
[tempGlobal, tempNests, tempAntarctica, tempPeninsula].forEach(function (g, i) {
    contourPanel(i, 0, g, fieldLats, fieldAlts, tempLevels, turbo);
});
contourPanel(0, 1, wGlobal, fieldLats, fieldAlts, wLevels, seismic);
contourPanel(1, 1, wNests, fieldLats, fieldAlts, wLevels, seismic);
contourPanel(2, 1, wAntarctica, fineLats, fineAlts, wLevels, seismic);
contourPanel(3, 1, wPeninsula, fineLats, fineAlts, wLevels, seismic);
[uGlobal, uNests, uAntarctica, uPeninsula].forEach(function (g, i) {
    contourPanel(i, 2, g, fieldLats, fieldAlts, uLevels, turbo);
});
thetaPanel(0, 3, thetaGlobal, thetaLatsGlobal);
thetaPanel(1, 3, thetaNests, thetaLatsNests);
thetaPanel(2, 3, thetaAntarctica, thetaLatsFine);
thetaPanel(3, 3, thetaPeninsula, thetaLatsFine);
surfacePanel(0, surfLatGlobal, surfGlobal);
surfacePanel(1, surfLatGlobal, surfGlobal);
surfacePanel(2, surfLatAntarctica, surfAntarctica);
surfacePanel(3, surfLatPeninsula, surfPeninsula);

// colorbars
colorbar(65, 123, tempLevels, turbo, tempTicks, tempTicks.map(String), 175, 211);
colorbar(245, 122, wLevels, seismic, wTicks, wTickLabels, -0.3, 0.3, { shoulder: 0.285, hiColor: seismic[19], loColor: seismic[0] });
colorbar(425, 124, uLevels, turbo, uTicks, uTickLabels, 3, 75);
colorbar(605, 123, thetaLevels, turbo, thetaTicks, thetaTicks.map(String), 300, 822);
addText('cbtitle', 'Temperature (K)', { left: '887px', top: '127px' });
addText('cbtitle', 'Vertical Velocity (m s<sup>−1</sup>)', { left: '899px', top: '307px' });
addText('cbtitle', 'Horizontal Velocity (m s<sup>−1</sup>)', { left: '884px', top: '487px' });
addText('cbtitle', 'Potential Temperature (K)', { left: '887px', top: '667px' });
</script>
</body>
</html>
